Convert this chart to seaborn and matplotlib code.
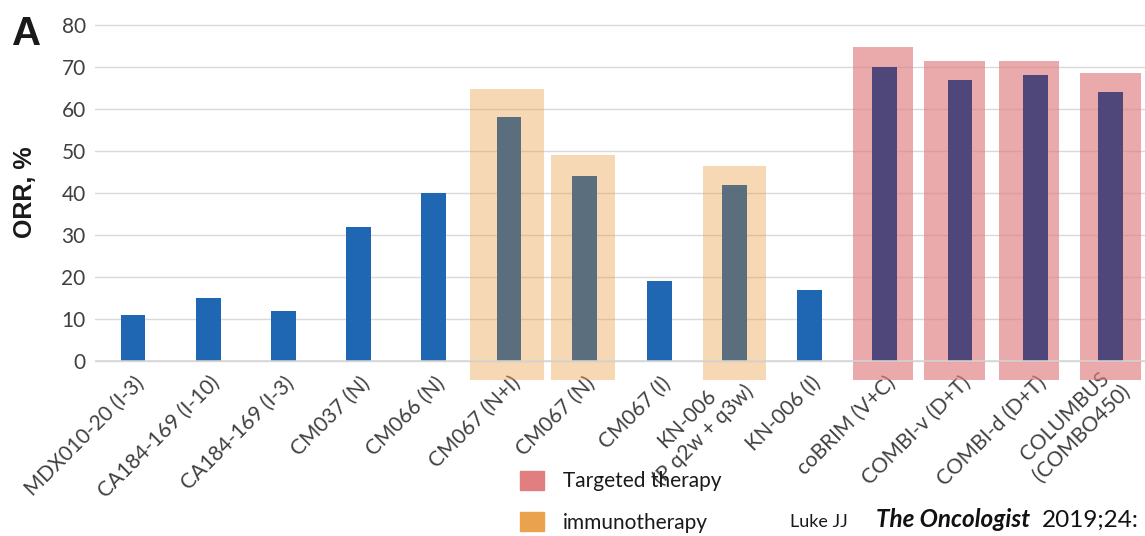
import matplotlib

matplotlib.use("Agg")

import matplotlib.pyplot as plt
import seaborn as sns
from matplotlib import transforms
from matplotlib.patches import Patch

import numpy as np
import pandas as pd

# Trials and objective response rates (%)
TRIALS = [
    "MDX010-20 (I-3)",
    "CA184-169 (I-10)",
    "CA184-169 (I-3)",
    "CM037 (N)",
    "CM066 (N)",
    "CM067 (N+I)",
    "CM067 (N)",
    "CM067 (I)",
    "KN-006\n(P q2w + q3w)",
    "KN-006 (I)",
    "coBRIM (V+C)",
    "COMBI-v (D+T)",
    "COMBI-d (D+T)",
    "COLUMBUS\n(COMBO450)",
]
ORR = [11, 15, 12, 32, 40, 58, 44, 19, 42, 17, 70, 67, 68, 64]
GROUP = [
    "other", "other", "other", "other", "other",
    "immunotherapy", "immunotherapy", "other", "immunotherapy", "other",
    "targeted", "targeted", "targeted", "targeted",
]
# top of the highlight box behind each bar (nan = no box)
HIGHLIGHT_TOP = [np.nan] * 5 + [64.8, 49, np.nan, 46.4, np.nan, 74.7, 71.5, 71.5, 68.6]

LEGEND_LABELS = ["Targeted therapy", "immunotherapy"]
Y_TICKS = [0, 10, 20, 30, 40, 50, 60, 70, 80]

# styling
BAR_COLORS = {"other": "#1F67B2", "immunotherapy": "#5A6E7E", "targeted": "#4F4679"}
BOX_COLORS = {"immunotherapy": "#EBA24E", "targeted": "#E07E80"}
BOX_ALPHA = {"immunotherapy": 0.42, "targeted": 0.66}
BOX_WIDTH = [0, 0, 0, 0, 0, 0.98, 0.85, 0, 0.84, 0, 0.80, 0.81, 0.80, 0.81]
BOX_SHIFT = [0, 0, 0, 0, 0, -0.03, -0.02, 0, 0, 0, -0.02, -0.07, -0.085, 0]
BOX_BOTTOM = -4.5
TEXT = "#404040"

W, H = 1145, 536

data = pd.DataFrame({"trial": TRIALS, "orr": ORR, "group": GROUP})

sns.set_theme(style="white")
plt.rcParams["font.family"] = ["Lato", "DejaVu Sans"]

fig = plt.figure(figsize=(W / 100, H / 100), dpi=100)
ax = fig.add_axes([95.4 / W, (H - 382) / H, (1148 - 95.4) / W, (382 - 20.8) / H])

sns.barplot(
    data=data,
    x="trial",
    y="orr",
    hue="group",
    palette=BAR_COLORS,
    width=0.33,
    dodge=False,
    saturation=1,
    legend=False,
    linewidth=0,
    zorder=3,
    ax=ax,
)

# translucent highlight boxes
for i, top in enumerate(HIGHLIGHT_TOP):
    if np.isnan(top):
        continue
    ax.bar(
        i + BOX_SHIFT[i],
        top - BOX_BOTTOM,
        bottom=BOX_BOTTOM,
        width=BOX_WIDTH[i],
        color=BOX_COLORS[GROUP[i]],
        alpha=BOX_ALPHA[GROUP[i]],
        linewidth=0,
        zorder=2,
    )

ax.set_xlim(-0.5, len(TRIALS) - 0.5)
ax.set_ylim(-5, 81)
ax.set_yticks(Y_TICKS)
ax.yaxis.grid(True, color="#D9D9D9", linewidth=1.0)
ax.set_axisbelow(True)
ax.axhline(0, color="#D6D6D6", linewidth=1.3, alpha=0.85, zorder=4)

for spine in ax.spines.values():
    spine.set_visible(False)

ax.set_xlabel("")
ax.set_ylabel("")
ax.tick_params(axis="y", length=0, pad=7, labelsize=15, labelcolor=TEXT)
ax.tick_params(axis="x", length=0, pad=0, labelsize=15, labelcolor=TEXT)
ax.set_xticks(range(len(TRIALS)))
ax.set_xticklabels(TRIALS, rotation=45, ha="right", va="center", rotation_mode="anchor", multialignment="center")
offset = transforms.ScaledTranslation(8 / 100, 2 / 100, fig.dpi_scale_trans)
for label in ax.get_xticklabels():
    label.set_transform(label.get_transform() + offset)

fig.text(25 / W, 1 - 192 / H, "ORR, %", rotation=90, ha="center", va="center",
         fontsize=18, fontweight="bold", family="Liberation Sans", color="#1A1A1A")
fig.text(12 / W, 1 - 45 / H, "A", ha="left", va="baseline",
         fontsize=29, fontweight="bold", family="Liberation Sans", color="#1A1A1A")

handles = [
    Patch(color=BOX_COLORS["targeted"], label=LEGEND_LABELS[0]),
    Patch(color=BOX_COLORS["immunotherapy"], label=LEGEND_LABELS[1]),
]
fig.legend(
    handles=handles,
    loc="upper left",
    bbox_to_anchor=(520 / W, 1 - 471 / H),
    frameon=False,
    fontsize=15,
    handlelength=1.15,
    handleheight=1.0,
    handletextpad=0.9,
    labelspacing=1.0,
    borderpad=0,
    borderaxespad=0,
    labelcolor="#1A1A1A",
)

fig.text(790 / W, 1 - 527 / H, "Luke JJ", fontsize=13, va="baseline", color="#1A1A1A")
fig.text(876 / W, 1 - 527 / H, "The Oncologist", fontsize=17.5, fontweight="bold",
         fontstyle="italic", va="baseline", color="#111111")
fig.text(1042 / W, 1 - 527 / H, "2019;24:", fontsize=17.5, va="baseline", color="#111111")

fig.savefig("out.png", dpi=100)
